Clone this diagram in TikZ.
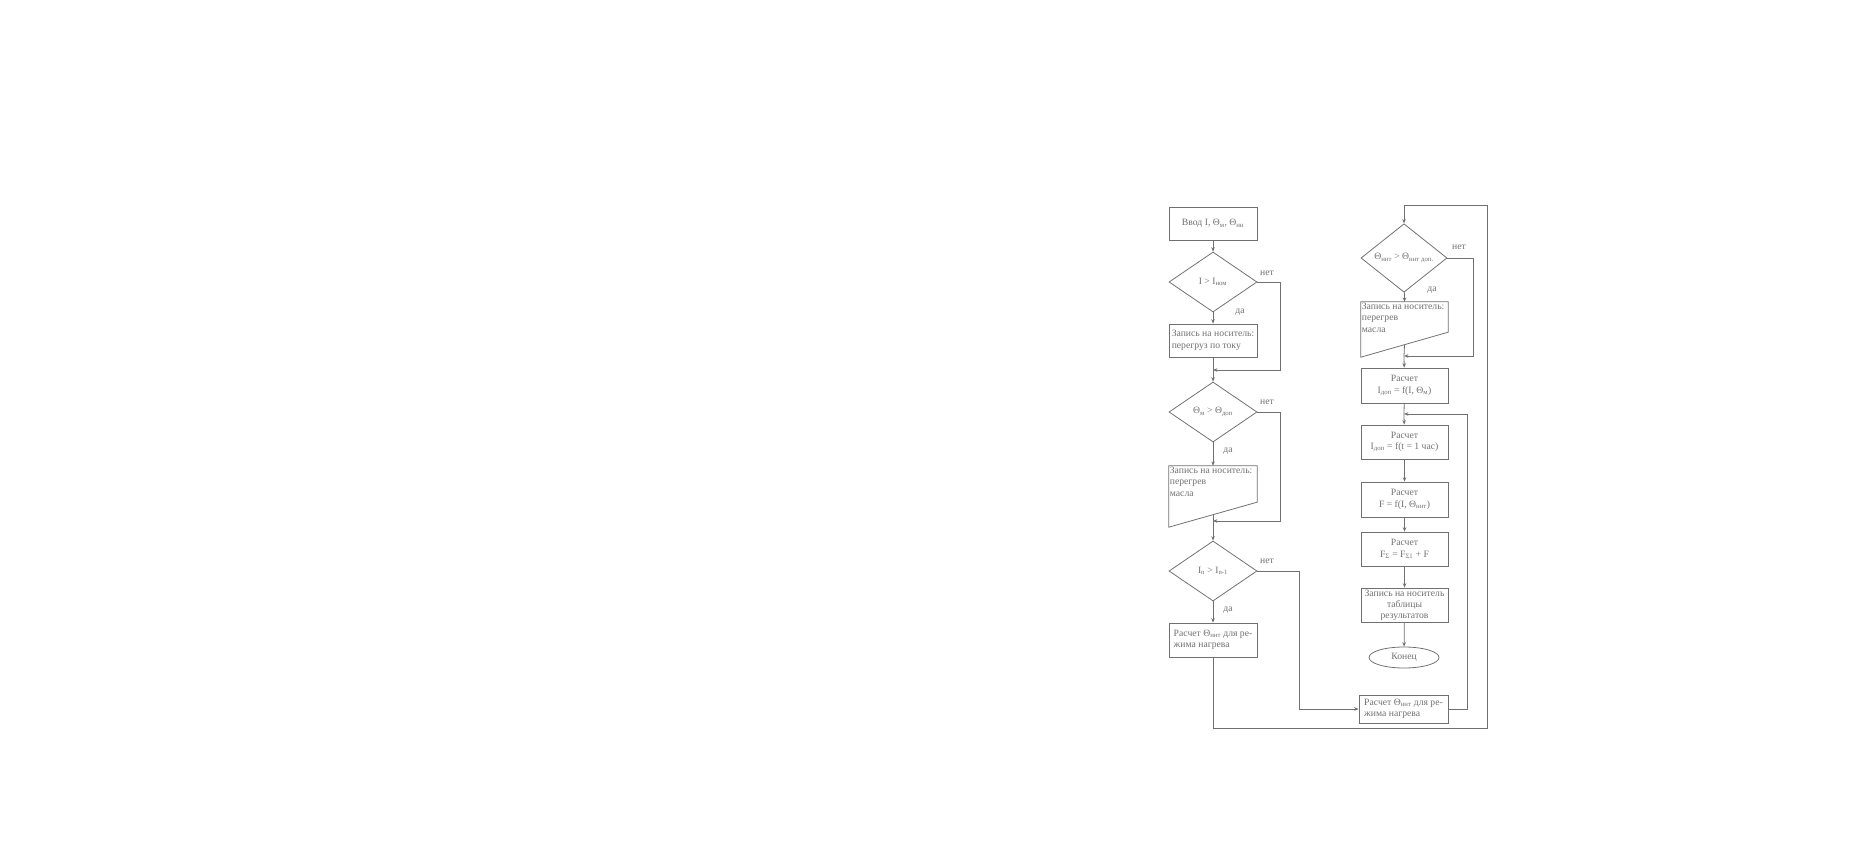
\documentclass[tikz,border=0pt]{standalone}
\usepackage{fontspec}
\setmainfont{Liberation Serif}
\usepackage{tikz}
\usetikzlibrary{shapes.geometric,arrows.meta,calc}
\definecolor{inkgray}{RGB}{112,112,112}

\begin{document}
\begin{tikzpicture}[x=0.04cm, y=-0.04cm,
    every node/.style={font=\fontsize{11}{13}\selectfont, text=inkgray},
    line/.style={draw=inkgray, line width=0.9pt},
    flow/.style={line, -{Stealth[length=5pt,width=4pt]}},
    box/.style={line, rectangle, minimum width=3.52cm, inner sep=1pt, align=center},
    test/.style={line, diamond, inner sep=0pt, minimum width=3.52cm, minimum height=2.4cm},
    docbox/.style={rectangle, minimum width=3.52cm, inner sep=0pt},
    doctext/.style={anchor=north west, align=left, inner sep=1pt}]
    % Canvas
    \useasboundingbox (0,0) rectangle (1855,845);

    % Left column
    \node[box, minimum height=1.32cm] (in) at (1213,223.5) {Ввод I, Θ\textsubscript{м}, Θ\textsubscript{нн}};
    \node[test] (d1) at (1213,282) {I > I\textsubscript{ном}};
    \node[box, minimum height=1.32cm, align=left] (b1) at (1213,340.5) {Запись на носитель:\\перегруз по току};
    \node[test] (d2) at (1213,412) {Θ\textsubscript{м} > Θ\textsubscript{доп}};
    \node[docbox, minimum height=2.44cm] (b2) at (1213,496.5) {};
    \node[doctext] (b2t) at (b2.north west) {Запись на носитель:\\перегрев\\масла};
    \node[test] (d3) at (1213,571) {I\textsubscript{n} > I\textsubscript{n-1}};
    \node[box, minimum height=1.36cm, align=left] (b3) at (1213,640) {Расчет Θ\textsubscript{ннт} для ре-\\жима нагрева};

    % Right column
    \node[test, minimum width=3.44cm] (r1) at (1404,258) {Θ\textsubscript{ннт} > Θ\textsubscript{ннт доп.}};
    \node[docbox, minimum width=3.48cm, minimum height=2.2cm] (r2) at (1404.5,329.5) {};
    \node[doctext] (r2t) at (r2.north west) {Запись на носитель:\\перегрев\\масла};
    \node[box, minimum width=3.48cm, minimum height=1.4cm] (r3) at (1404.5,385.5) {Расчет\\I\textsubscript{доп} = f(I, Θ\textsubscript{м})};
    \node[box, minimum width=3.48cm, minimum height=1.36cm] (r4) at (1404.5,442) {Расчет\\I\textsubscript{доп} = f(t = 1 час)};
    \node[box, minimum width=3.48cm, minimum height=1.4cm] (r5) at (1404.5,499.5) {Расчет\\F = f(I, Θ\textsubscript{ннт})};
    \node[box, minimum width=3.48cm, minimum height=1.36cm] (r6) at (1404.5,549) {Расчет\\F\textsubscript{Σ} = F\textsubscript{Σ1} + F};
    \node[box, minimum width=3.48cm, minimum height=1.36cm, inner sep=0pt,
          font=\fontsize{11}{12.5}\selectfont] (r7) at (1404.5,605) {Запись на носитель\\таблицы\\результатов};
    \node[line, ellipse, inner sep=0pt, minimum width=2.8cm, minimum height=0.84cm] (end) at (1404,657.5) {Конец};
    \node[box, minimum width=3.56cm, minimum height=1.12cm, align=left] (r8) at (1403.5,709) {Расчет Θ\textsubscript{ннт} для ре-\\жима нагрева};

    % Document shapes
    \draw[line] (b2.south west) -- (b2.north west) -- (b2.north east) -- ([yshift=1cm]b2.south east) -- cycle;
    \draw[line] (r2.south west) -- (r2.north west) -- (r2.north east) -- ([yshift=1cm]r2.south east) -- cycle;

    % Join points and corners
    \coordinate (j1) at (1213,370);
    \coordinate (j2) at (1213,521);
    \coordinate (j4) at (1404,356);
    \coordinate (j5) at (1404,414);
    \coordinate (loopc) at (1487,728);
    \coordinate (top) at (1487,205);

    % Left column connectors
    \draw[flow] (in) -- (d1);
    \draw[flow] (d1) -- (b1);
    \draw[flow] (d1.east) -- ++(23,0) |- (j1);
    \draw[line] (b1) -- (j1);
    \draw[flow] (j1) -- (d2);
    \draw[flow] (d2) -- (b2.north);
    \draw[flow] (d2.east) -- ++(23,0) |- (j2);
    \draw[line] ([yshift=0.5cm]b2.south) -- (j2);
    \draw[flow] (j2) -- (d3);
    \draw[flow] (d3) -- (b3);
    \draw[flow] (d3.east) -- ++(42,0) |- (r8.west);
    \draw[flow] (b3.south) |- (loopc) -- (top) -| (r1.north);

    % Right column connectors
    \draw[flow] (r1) -- (r2.north);
    \draw[flow] (r1.east) -- ++(26,0) |- (j4);
    \draw[line] ([yshift=0.5cm]r2.south) -- (j4);
    \draw[flow] (j4) -- (r3);
    \draw[line] (r3) -- (j5);
    \draw[flow] (r8.east) -- ++(19,0) |- (j5);
    \draw[flow] (j5) -- (r4);
    \foreach \a/\b in {r4/r5, r5/r6, r6/r7, r7/end}
        \draw[flow] (\a) -- (\b);

    % Branch labels
    \node (no1) at (1267,273) {нет};
    \node (yes1) at (1240,312) {да};
    \node (no2) at (1267,402) {нет};
    \node (yes2) at (1228,451) {да};
    \node (no3) at (1267,561) {нет};
    \node (yes3) at (1228,610) {да};
    \node (no4) at (1459,247) {нет};
    \node (yes4) at (1432,290) {да};
\end{tikzpicture}
\end{document}
